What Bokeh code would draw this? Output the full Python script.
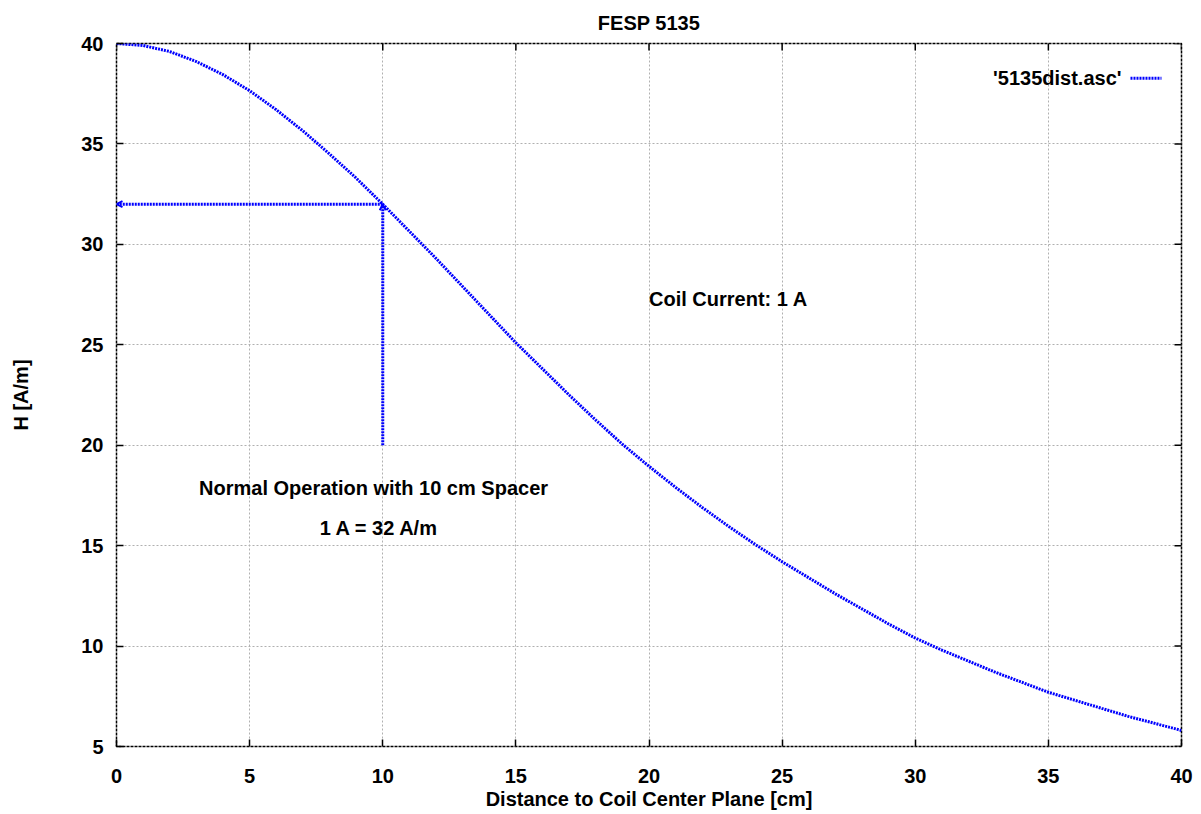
from bokeh.plotting import figure
from bokeh.models import (ColumnDataSource, Arrow, OpenHead, Label,
                          FixedTicker, Range1d)
from bokeh.embed import file_html
from bokeh.resources import INLINE

# ---- data ----
distance_cm = list(range(0, 41))
h_field = [40.0, 39.9, 39.6, 39.1, 38.45, 37.65, 36.7, 35.65, 34.5, 33.3,
           32.0, 30.65, 29.3, 27.9, 26.5, 25.1, 23.8, 22.5, 21.25, 20.05,
           18.95, 17.9, 16.9, 15.95, 15.05, 14.2, 13.4, 12.6, 11.85, 11.1,
           10.4, 9.8, 9.25, 8.7, 8.2, 7.7, 7.3, 6.9, 6.5, 6.15, 5.8]
series_name = "'5135dist.asc'"
x_ticks = [0, 5, 10, 15, 20, 25, 30, 35, 40]
y_ticks = [5, 10, 15, 20, 25, 30, 35, 40]
spacer_cm = 10
h_at_spacer = 32
arrow_base_h = 20
annotations = [("Coil Current: 1 A", 20.0, 27.3),
               ("Normal Operation with 10 cm Spacer", 3.1, 17.85),
               ("1 A = 32 A/m", 7.63, 15.87)]

FONT = "Liberation Sans"
BLUE = "#0000ff"
FS = "20px"

X0, X1, Y0, Y1 = 0, 40, 5, 40

p = figure(width=1193, height=812, output_backend="svg", toolbar_location=None,
           x_range=Range1d(X0, X1), y_range=Range1d(Y0, Y1),
           title="FESP 5135",
           min_border_left=116, min_border_right=12,
           min_border_top=43, min_border_bottom=63)

p.title.align = "center"
p.title.vertical_align = "top"
p.title.text_font = FONT
p.title.text_font_size = FS
p.title.text_font_style = "bold"
p.title.text_color = "black"
p.title.standoff = 16

p.background_fill_color = "white"
p.border_fill_color = "white"
p.outline_line_color = "black"
p.outline_line_width = 1.5
p.outline_line_dash = "3 1"

for ax in (p.xaxis[0], p.yaxis[0]):
    ax.axis_line_color = None
    ax.major_tick_in = 7
    ax.major_tick_out = 0
    ax.major_tick_line_color = "black"
    ax.major_tick_line_width = 1.5
    ax.minor_tick_line_color = None
    ax.major_label_text_font = FONT
    ax.major_label_text_font_size = FS
    ax.major_label_text_font_style = "bold"
    ax.major_label_text_color = "black"
    ax.axis_label_text_font = FONT
    ax.axis_label_text_font_size = FS
    ax.axis_label_text_font_style = "bold"
    ax.axis_label_text_color = "black"

p.xaxis[0].ticker = FixedTicker(ticks=x_ticks)
p.yaxis[0].ticker = FixedTicker(ticks=y_ticks)
p.xaxis[0].axis_label = "Distance to Coil Center Plane [cm]"
p.yaxis[0].axis_label = "H [A/m]"
p.xaxis[0].major_label_standoff = 22
p.xaxis[0].axis_label_standoff = 2
p.yaxis[0].major_label_standoff = 13
p.yaxis[0].axis_label_standoff = 46

p.grid.grid_line_color = "#b0b0b0"
p.grid.grid_line_dash = "2 2"
p.grid.grid_line_width = 1
p.xgrid.ticker = FixedTicker(ticks=x_ticks)
p.ygrid.ticker = FixedTicker(ticks=y_ticks)

# mirror ticks on top and right edges (half of each dash is clipped by the frame)
p.scatter(x_ticks, [Y1] * len(x_ticks), marker="dash", size=14, angle=1.5708,
          line_color="black", line_width=1.5)
p.scatter([X1] * len(y_ticks), y_ticks, marker="dash", size=14,
          line_color="black", line_width=1.5)

src = ColumnDataSource(dict(x=distance_cm, h=h_field))
p.line("x", "h", source=src, line_color=BLUE, line_width=3, line_dash="2 1")

# arrows
p.add_layout(Arrow(x_start=spacer_cm, y_start=arrow_base_h, x_end=spacer_cm, y_end=h_at_spacer,
                   line_color=BLUE, line_width=3, line_dash="2 1",
                   end=OpenHead(size=6, line_color=BLUE, line_width=2)))
p.add_layout(Arrow(x_start=spacer_cm, y_start=h_at_spacer, x_end=X0, y_end=h_at_spacer,
                   line_color=BLUE, line_width=3, line_dash="2 1",
                   end=OpenHead(size=6, line_color=BLUE, line_width=2)))

for txt, xx, yy in annotations:
    p.add_layout(Label(x=xx, y=yy, text=txt, text_font=FONT, text_font_size=FS,
                       text_font_style="bold", text_color="black",
                       text_align="left", text_baseline="middle"))

# legend (text left of sample, gnuplot style) positioned relative to ranges
leg_y = Y1 - 0.0496 * (Y1 - Y0)
samp_x1 = X1 - 0.0188 * (X1 - X0)
samp_x0 = X1 - 0.0479 * (X1 - X0)
p.add_layout(Label(x=X1 - 0.0563 * (X1 - X0), y=leg_y, text=series_name,
                   text_font=FONT, text_font_size=FS, text_font_style="bold",
                   text_color="black", text_align="right", text_baseline="middle"))
p.add_layout(Arrow(x_start=samp_x0, y_start=leg_y, x_end=samp_x1, y_end=leg_y,
                   line_color=BLUE, line_width=3, line_dash="2 1", end=None))

open("out.html", "w").write(file_html(p, INLINE))
